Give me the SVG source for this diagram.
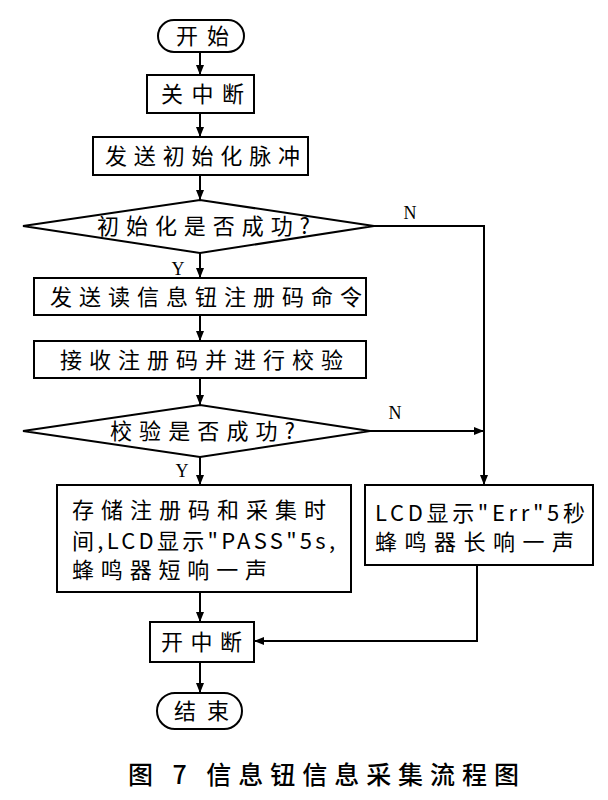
<svg xmlns="http://www.w3.org/2000/svg" width="608" height="800" viewBox="0 0 608 800">
<defs>
<style>
.s{fill:#fff;stroke:#000;stroke-width:2}
.t{font-family:"Noto Sans CJK SC","Liberation Sans",sans-serif;font-size:22px;fill:#000}
.l{font-family:"Liberation Serif",serif;font-size:18px;fill:#000}
.c{fill:none;stroke:#000;stroke-width:2}
.cap{font-family:"Noto Sans CJK SC",sans-serif;font-size:25px;font-weight:500;fill:#000}
</style>
<marker id="a" viewBox="0 0 10 8" refX="10" refY="4" markerWidth="10" markerHeight="8" markerUnits="userSpaceOnUse" orient="auto">
<path d="M0,0 L10,4 L0,8 Z" fill="#000"/>
</marker>
</defs>
<rect width="608" height="800" fill="#fff"/>
<g id="connectors">
<path class="c" d="M200,52 V75" marker-end="url(#a)"/>
<path class="c" d="M200,113 V137" marker-end="url(#a)"/>
<path class="c" d="M200,175 V200" marker-end="url(#a)"/>
<path class="c" d="M200,253 V278" marker-end="url(#a)"/>
<path class="c" d="M200,315 V341" marker-end="url(#a)"/>
<path class="c" d="M200,378 V405" marker-end="url(#a)"/>
<path class="c" d="M200,457 V485" marker-end="url(#a)"/>
<path class="c" d="M374,226 H484 V485" marker-end="url(#a)"/>
<path class="c" d="M370,431 H484" marker-end="url(#a)"/>
<path class="c" d="M200,592 V622" marker-end="url(#a)"/>
<path class="c" d="M477,565 V641 H254" marker-end="url(#a)"/>
<path class="c" d="M200,662 V693" marker-end="url(#a)"/>
<text class="l" x="410" y="219" text-anchor="middle">N</text>
<text class="l" x="395" y="419" text-anchor="middle">N</text>
<text class="l" x="178" y="275" text-anchor="middle">Y</text>
<text class="l" x="182" y="477" text-anchor="middle">Y</text>
</g>
<g id="start">
<rect class="s" x="158" y="20" width="86" height="32" rx="16"/>
<text class="t" x="176" y="44" textLength="53" lengthAdjust="spacing">开始</text>
</g>
<g id="disable-int">
<rect class="s" x="147" y="75" width="107" height="38"/>
<text class="t" x="161" y="102" textLength="83" lengthAdjust="spacing">关中断</text>
</g>
<g id="send-init">
<rect class="s" x="93" y="137" width="215" height="38"/>
<text class="t" x="105" y="164" textLength="195" lengthAdjust="spacing">发送初始化脉冲</text>
</g>
<g id="init-ok">
<polygon class="s" points="23,226 200,200 374,226 200,253"/>
<text class="t" x="97" y="234" textLength="213" lengthAdjust="spacing">初始化是否成功?</text>
</g>
<g id="send-read">
<rect class="s" x="34" y="278" width="332" height="37"/>
<text class="t" x="50" y="305" textLength="312" lengthAdjust="spacing">发送读信息钮注册码命令</text>
</g>
<g id="receive">
<rect class="s" x="34" y="341" width="332" height="37"/>
<text class="t" x="60" y="368" textLength="283" lengthAdjust="spacing">接收注册码并进行校验</text>
</g>
<g id="check-ok">
<polygon class="s" points="23,431 200,405 370,431 200,457"/>
<text class="t" x="110" y="439" textLength="185" lengthAdjust="spacing">校验是否成功?</text>
</g>
<g id="store">
<rect class="s" x="57" y="485" width="294" height="107"/>
<text class="t" x="72" y="518" textLength="254" lengthAdjust="spacing">存储注册码和采集时</text>
<text class="t" x="72" y="549" textLength="263" lengthAdjust="spacing">间,LCD显示"PASS"5s,</text>
<text class="t" x="72" y="578" textLength="195" lengthAdjust="spacing">蜂鸣器短响一声</text>
</g>
<g id="error">
<rect class="s" x="365" y="485" width="228" height="80"/>
<text class="t" x="375" y="521" textLength="210" lengthAdjust="spacing">LCD显示"Err"5秒</text>
<text class="t" x="375" y="550" textLength="199" lengthAdjust="spacing">蜂鸣器长响一声</text>
</g>
<g id="enable-int">
<rect class="s" x="150" y="622" width="104" height="40"/>
<text class="t" x="161" y="650" textLength="81" lengthAdjust="spacing">开中断</text>
</g>
<g id="end">
<rect class="s" x="157" y="693" width="85" height="36" rx="18"/>
<text class="t" x="174" y="719" textLength="55" lengthAdjust="spacing">结束</text>
</g>
<text class="cap" x="128" y="784" textLength="391" lengthAdjust="spacing">图 7  信息钮信息采集流程图</text>
</svg>
